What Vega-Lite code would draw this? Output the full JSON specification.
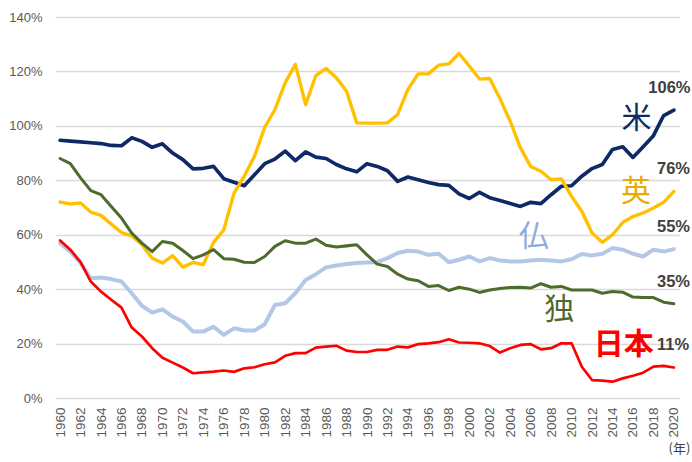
{
  "$schema": "https://vega.github.io/schema/vega-lite/v6.json",
  "autosize": {"type": "none"},
  "width": 624,
  "height": 381,
  "padding": {"left": 55, "top": 17, "right": 13, "bottom": 64},
  "background": "white",
  "config": {"view": {"stroke": null}, "font": "Liberation Sans", "axis": {"labelOverlap": false, "labelBound": false}},
  "datasets": {
    "series": [
      {"year":1960,"us":94.7,"uk":72.0,"fr":56.9,"de":88.0,"jp":57.9},
      {"year":1961,"us":94.4,"uk":71.3,"fr":53.8,"de":86.1,"jp":54.5},
      {"year":1962,"us":94.1,"uk":71.7,"fr":49.6,"de":80.9,"jp":49.9},
      {"year":1963,"us":93.8,"uk":68.3,"fr":44.0,"de":76.2,"jp":42.8},
      {"year":1964,"us":93.5,"uk":67.1,"fr":44.3,"de":74.7,"jp":39.1},
      {"year":1965,"us":92.8,"uk":63.9,"fr":43.7,"de":70.4,"jp":36.1},
      {"year":1966,"us":92.7,"uk":60.8,"fr":42.8,"de":66.1,"jp":33.2},
      {"year":1967,"us":95.6,"uk":59.6,"fr":38.5,"de":60.6,"jp":25.9},
      {"year":1968,"us":94.3,"uk":56.3,"fr":33.9,"de":56.9,"jp":22.6},
      {"year":1969,"us":92.1,"uk":51.4,"fr":31.4,"de":53.8,"jp":18.3},
      {"year":1970,"us":93.4,"uk":49.6,"fr":32.6,"de":57.5,"jp":14.8},
      {"year":1971,"us":90.0,"uk":52.3,"fr":29.9,"de":56.9,"jp":13.0},
      {"year":1972,"us":87.6,"uk":48.1,"fr":28.1,"de":54.2,"jp":11.2},
      {"year":1973,"us":84.2,"uk":49.8,"fr":24.4,"de":51.2,"jp":9.1},
      {"year":1974,"us":84.4,"uk":49.0,"fr":24.4,"de":52.6,"jp":9.4},
      {"year":1975,"us":85.1,"uk":57.2,"fr":26.2,"de":54.5,"jp":9.7},
      {"year":1976,"us":80.6,"uk":61.8,"fr":23.2,"de":51.2,"jp":10.1},
      {"year":1977,"us":79.3,"uk":75.3,"fr":25.6,"de":51.0,"jp":9.6},
      {"year":1978,"us":78.0,"uk":81.5,"fr":24.8,"de":49.9,"jp":10.9},
      {"year":1979,"us":82.0,"uk":88.8,"fr":24.8,"de":49.8,"jp":11.3},
      {"year":1980,"us":86.1,"uk":99.5,"fr":27.1,"de":52.0,"jp":12.4},
      {"year":1981,"us":87.8,"uk":106.0,"fr":34.2,"de":55.7,"jp":13.1},
      {"year":1982,"us":90.7,"uk":115.8,"fr":34.8,"de":57.8,"jp":15.5},
      {"year":1983,"us":87.2,"uk":122.6,"fr":38.5,"de":56.9,"jp":16.5},
      {"year":1984,"us":90.4,"uk":107.8,"fr":43.4,"de":56.9,"jp":16.5},
      {"year":1985,"us":88.5,"uk":118.5,"fr":45.5,"de":58.4,"jp":18.5},
      {"year":1986,"us":88.0,"uk":121.1,"fr":48.0,"de":56.1,"jp":18.9},
      {"year":1987,"us":85.8,"uk":117.7,"fr":48.7,"de":55.5,"jp":19.2},
      {"year":1988,"us":84.2,"uk":112.7,"fr":49.2,"de":55.9,"jp":17.4},
      {"year":1989,"us":83.1,"uk":101.1,"fr":49.6,"de":56.3,"jp":16.9},
      {"year":1990,"us":86.1,"uk":101.0,"fr":49.8,"de":52.6,"jp":16.9},
      {"year":1991,"us":85.1,"uk":101.0,"fr":49.9,"de":49.2,"jp":17.7},
      {"year":1992,"us":83.5,"uk":101.1,"fr":51.4,"de":48.3,"jp":17.7},
      {"year":1993,"us":79.6,"uk":104.2,"fr":53.3,"de":45.5,"jp":18.9},
      {"year":1994,"us":81.2,"uk":113.4,"fr":54.1,"de":43.7,"jp":18.6},
      {"year":1995,"us":80.2,"uk":119.1,"fr":53.8,"de":43.1,"jp":19.8},
      {"year":1996,"us":79.2,"uk":119.1,"fr":52.6,"de":41.0,"jp":20.1},
      {"year":1997,"us":78.4,"uk":122.3,"fr":53.0,"de":41.3,"jp":20.5},
      {"year":1998,"us":78.1,"uk":122.8,"fr":49.9,"de":39.5,"jp":21.6},
      {"year":1999,"us":75.0,"uk":126.6,"fr":50.8,"de":40.7,"jp":20.4},
      {"year":2000,"us":73.3,"uk":122.0,"fr":52.0,"de":40.0,"jp":20.3},
      {"year":2001,"us":75.6,"uk":117.2,"fr":50.2,"de":38.8,"jp":20.1},
      {"year":2002,"us":73.6,"uk":117.4,"fr":51.4,"de":39.7,"jp":19.1},
      {"year":2003,"us":72.6,"uk":110.0,"fr":50.5,"de":40.2,"jp":16.7},
      {"year":2004,"us":71.5,"uk":101.7,"fr":50.2,"de":40.6,"jp":18.3},
      {"year":2005,"us":70.4,"uk":91.9,"fr":50.2,"de":40.7,"jp":19.5},
      {"year":2006,"us":71.9,"uk":85.1,"fr":50.5,"de":40.4,"jp":19.8},
      {"year":2007,"us":71.4,"uk":83.3,"fr":50.8,"de":42.0,"jp":17.9},
      {"year":2008,"us":74.7,"uk":80.2,"fr":50.5,"de":40.7,"jp":18.3},
      {"year":2009,"us":77.8,"uk":80.5,"fr":50.2,"de":41.0,"jp":20.1},
      {"year":2010,"us":78.0,"uk":74.1,"fr":51.0,"de":39.7,"jp":20.1},
      {"year":2011,"us":81.5,"uk":68.6,"fr":52.9,"de":39.7,"jp":11.5},
      {"year":2012,"us":84.3,"uk":60.6,"fr":52.4,"de":39.7,"jp":6.6},
      {"year":2013,"us":85.8,"uk":57.2,"fr":53.0,"de":38.5,"jp":6.4},
      {"year":2014,"us":91.3,"uk":60.0,"fr":55.1,"de":39.1,"jp":6.0},
      {"year":2015,"us":92.3,"uk":64.5,"fr":54.5,"de":38.9,"jp":7.2},
      {"year":2016,"us":88.4,"uk":66.7,"fr":53.0,"de":37.1,"jp":8.2},
      {"year":2017,"us":92.3,"uk":68.0,"fr":52.0,"de":36.9,"jp":9.3},
      {"year":2018,"us":96.4,"uk":69.8,"fr":54.5,"de":36.9,"jp":11.5},
      {"year":2019,"us":103.8,"uk":71.9,"fr":53.8,"de":35.2,"jp":11.8},
      {"year":2020,"us":105.8,"uk":75.9,"fr":54.7,"de":34.6,"jp":11.2}
    ],
    "names": [
      {"label":"米","country":"us","year":2016.35,"value":102.7},
      {"label":"英","country":"uk","year":2016.3,"value":75.7},
      {"label":"仏","country":"fr","year":2006.3,"value":59.2},
      {"label":"独","country":"de","year":2008.8,"value":32.3}
    ],
    "japan": [
      {"label":"日本","year":2015.1,"value":19.5}
    ],
    "pct": [
      {"label":"106%","year":2017.5,"value":113.9},
      {"label":"76%","year":2018.35,"value":84.1},
      {"label":"55%","year":2018.35,"value":62.8},
      {"label":"35%","year":2018.35,"value":42.6},
      {"label":"11%","year":2018.35,"value":19.5}
    ]
  },
  "layer": [
    {
      "data": {"name": "series"},
      "transform": [
        {"fold": ["fr", "us", "uk", "de", "jp"], "as": ["country", "value"]}
      ],
      "mark": {"type": "line", "strokeJoin": "round", "strokeCap": "round"},
      "encoding": {
        "x": {
          "field": "year", "type": "quantitative",
          "scale": {"domain": [1959.5, 2020.5], "nice": false, "zero": false},
          "axis": {
            "values": [1960,1962,1964,1966,1968,1970,1972,1974,1976,1978,1980,1982,1984,1986,1988,1990,1992,1994,1996,1998,2000,2002,2004,2006,2008,2010,2012,2014,2016,2018,2020],
            "tickCount": 100,
            "format": "d", "labelAngle": -90, "labelAlign": "right", "labelBaseline": "middle",
            "labelFontSize": 13.5, "labelColor": "#595959", "labelPadding": 9,
            "ticks": false, "domain": false, "grid": false, "labelOverlap": false, "labelSeparation": 0,
            "title": "(年)", "titleFont": "Noto Sans CJK JP", "titleFontWeight": "normal",
            "titleFontSize": 13, "titleColor": "#404040", "titleAnchor": "end", "titleAlign": "center",
            "titlePadding": 5
          }
        },
        "y": {
          "field": "value", "type": "quantitative",
          "scale": {"domain": [0, 140], "nice": false},
          "axis": {
            "values": [0,20,40,60,80,100,120,140],
            "tickCount": 20,
            "labelExpr": "datum.value + '%'",
            "labelFontSize": 13, "labelColor": "#595959", "labelPadding": 13,
            "ticks": false, "domain": false, "title": null,
            "gridColor": "#D9D9D9", "gridWidth": 1.5
          }
        },
        "color": {
          "field": "country", "type": "nominal", "legend": null,
          "scale": {"domain": ["fr","us","uk","de","jp"], "range": ["#B4C7E7","#0D2A66","#FFC000","#4E6B2E","#FF0000"]}
        },
        "strokeWidth": {
          "field": "country", "type": "nominal", "legend": null,
          "scale": {"domain": ["fr","us","uk","de","jp"], "range": [4, 2.7, 2.5, 2.5, 2.5]}
        },
        "order": {"field": "year", "type": "quantitative"}
      }
    },
    {
      "data": {"name": "names"},
      "mark": {"type": "text", "font": "Noto Sans CJK JP", "fontSize": 30, "align": "center", "baseline": "middle"},
      "encoding": {
        "x": {"field": "year", "type": "quantitative"},
        "y": {"field": "value", "type": "quantitative"},
        "text": {"field": "label"},
        "color": {
          "field": "country", "type": "nominal", "legend": null,
          "scale": {"domain": ["fr","us","uk","de"], "range": ["#8FAADC","#0D2A66","#E8AC00","#4E6B2E"]}
        }
      }
    },
    {
      "data": {"name": "japan"},
      "mark": {"type": "text", "font": "Noto Sans CJK JP", "fontSize": 30, "fontWeight": "bold", "align": "center", "baseline": "middle", "fill": "#FF0000"},
      "encoding": {
        "x": {"field": "year", "type": "quantitative"},
        "y": {"field": "value", "type": "quantitative"},
        "text": {"field": "label"}
      }
    },
    {
      "data": {"name": "pct"},
      "mark": {"type": "text", "fontSize": 16.5, "fontWeight": "bold", "color": "#404040", "align": "left", "baseline": "middle"},
      "encoding": {
        "x": {"field": "year", "type": "quantitative"},
        "y": {"field": "value", "type": "quantitative"},
        "text": {"field": "label"}
      }
    }
  ],
  "resolve": {"scale": {"color": "independent"}}
}
